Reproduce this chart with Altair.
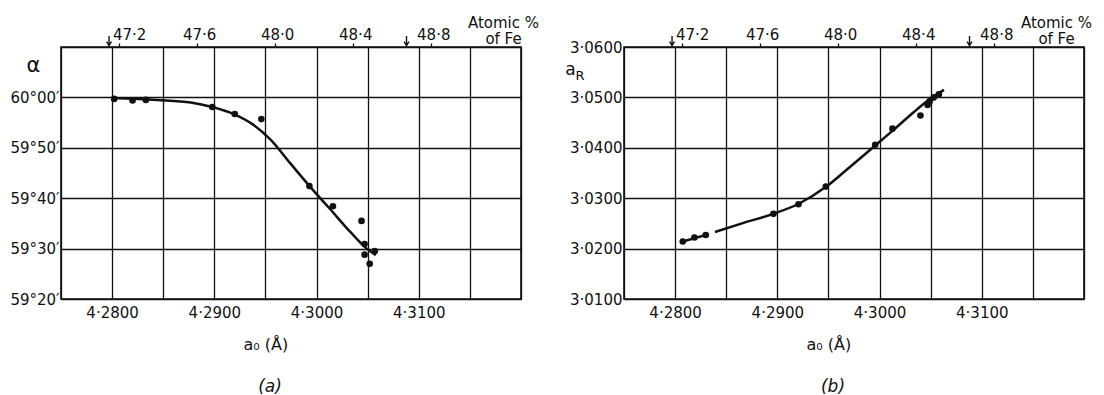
import altair as alt
import pandas as pd

# ---------------- data ----------------
# panel (a): alpha in arc-minutes (60°00' = 3600)
a_pts_a0 = [4.2802, 4.2820, 4.2833, 4.2898, 4.2920, 4.2946, 4.2993, 4.3016,
            4.3044, 4.3047, 4.3047, 4.3052, 4.3057]
a_pts_alpha = [3599.7, 3599.4, 3599.5, 3598.1, 3596.7, 3595.7, 3582.4, 3578.4,
               3575.5, 3570.9, 3568.8, 3567.0, 3569.5]
a_curve_a0 = [4.2800, 4.2844, 4.2877, 4.2898, 4.2919, 4.2938, 4.2955, 4.2974,
              4.2994, 4.3013, 4.3033, 4.3049, 4.3058]
a_curve_alpha = [3599.9, 3599.5, 3599.0, 3598.1, 3596.7, 3594.6, 3591.6, 3587.0,
                 3582.2, 3577.9, 3573.3, 3570.0, 3568.7]

# panel (b): a_R
b_pts_a0 = [4.28075, 4.28189, 4.2830, 4.28962, 4.29207, 4.29475, 4.29957, 4.30126,
            4.3040, 4.3047, 4.3049, 4.3053, 4.3058]
b_pts_aR = [3.0214, 3.0222, 3.0227, 3.0269, 3.0288, 3.0323, 3.0406, 3.0438,
            3.0464, 3.0485, 3.0492, 3.0500, 3.0506]
b_curve_a0 = [4.28075, 4.2830,
              4.2839, 4.2867, 4.2896, 4.2921, 4.2948, 4.2971, 4.2996, 4.3014,
              4.3033, 4.3046, 4.3063]
b_curve_aR = [3.0214, 3.0227,
              3.0233, 3.0251, 3.0269, 3.0289, 3.0323, 3.0362, 3.0405, 3.0436,
              3.0470, 3.0492, 3.0515]
b_curve_seg = [1, 1, 2, 2, 2, 2, 2, 2, 2, 2, 2, 2, 2]

# composition limits (arrows) and top axis (Atomic % of Fe)
arrow_a0 = [4.2797, 4.3088]
top_pct = [47.2, 47.6, 48.0, 48.4, 48.8]

x_grid = [4.275, 4.280, 4.285, 4.290, 4.295, 4.300, 4.305, 4.310, 4.315, 4.320]
a_y_grid = [3560, 3570, 3580, 3590, 3600, 3610]
b_y_grid = [3.01, 3.02, 3.03, 3.04, 3.05, 3.06]

# ---------------- styling ----------------
FONT = "DejaVu Sans"
INK = "#111111"
W, H = 460, 252
X_DOMAIN = [4.275, 4.320]
TOP_DOMAIN = [46.902, 49.26]

x_label_expr = ("(round(datum.value*1000) % 10 == 0 && datum.value > 4.277 && datum.value < 4.318)"
                " ? replace(format(datum.value, '.4f'), '.', '·') : ''")


def panel(pts, curve, yfield, ydomain, yvals, ylabel_expr, ytitle, ytitle_x, ytitle_y,
          ytitle_size, caption, top_title_x, extra=None):
    xs = alt.Scale(domain=X_DOMAIN, nice=False, zero=False)
    ys = alt.Scale(domain=ydomain, nice=False, zero=False)
    x_axis = alt.Axis(values=x_grid, labelExpr=x_label_expr, ticks=False, tickSize=0,
                      labelPadding=6, grid=True, domain=False, title="a₀ (Å)",
                      titleX=204.4, titleY=50, titleAlign="center",
                      titleBaseline="alphabetic", labelFlush=False, labelOverlap=False)
    y_axis = alt.Axis(values=yvals, labelExpr=ylabel_expr, ticks=False, tickSize=0,
                      labelPadding=2, grid=True, domain=False, title=ytitle,
                      titleAngle=0, titleX=ytitle_x, titleY=ytitle_y, titleAlign="center",
                      titleBaseline="alphabetic", titleFontSize=ytitle_size,
                      labelFlush=False, labelOverlap=False)
    points = alt.Chart(pts).mark_circle(size=44, color=INK, opacity=1).encode(
        x=alt.X("a0:Q", scale=xs, axis=x_axis),
        y=alt.Y(f"{yfield}:Q", scale=ys, axis=y_axis),
    )
    line = alt.Chart(curve).mark_line(color=INK, strokeWidth=2.5, interpolate="monotone").encode(
        x=alt.X("a0:Q", scale=xs),
        y=alt.Y(f"{yfield}:Q", scale=ys),
        detail="seg:N",
    )
    arrow_df = pd.DataFrame({"a0": arrow_a0})
    shafts = alt.Chart(arrow_df).mark_rule(color=INK, strokeWidth=1.4).encode(
        x=alt.X("a0:Q", scale=xs), y=alt.value(-11), y2=alt.value(-1)
    )
    heads = alt.Chart(arrow_df).mark_point(
        shape="M-1,-1L0,0.6L1,-1", filled=False, color=INK, strokeWidth=1.4, size=24, opacity=1
    ).encode(x=alt.X("a0:Q", scale=xs), y=alt.value(-3))
    layers = [points, line, shafts, heads]
    if extra is not None:
        layers.append(extra)
    inner = alt.layer(*layers)
    top = alt.Chart(pd.DataFrame({"pct": top_pct})).mark_point(opacity=0).encode(
        x=alt.X("pct:Q", scale=alt.Scale(domain=TOP_DOMAIN, nice=False, zero=False),
                axis=alt.Axis(orient="top", values=top_pct,
                              labelExpr="replace(format(datum.value, '.1f'), '.', '·')",
                              ticks=True, tickSize=4, tickColor=INK, tickWidth=1.3,
                              labelPadding=1, grid=False, domain=False,
                              labelOffset={"condition": {"test": "datum.value < 47.3", "value": 10},
                                           "value": 2},
                              title=["Atomic %", "of Fe"], titleAngle=0, titleX=top_title_x,
                              titleY=-20, titleAlign="center", titleBaseline="alphabetic",
                              titleLineHeight=16, titleFontSize=15,
                              labelFlush=False, labelOverlap=False)),
        y=alt.value(0),
    )
    return alt.layer(inner, top).resolve_scale(x="independent").properties(
        width=W, height=H,
        title=alt.TitleParams(caption, orient="bottom", anchor="middle", dx=-21, offset=27,
                              font=FONT, fontSize=17, fontStyle="italic",
                              fontWeight="normal", color=INK),
    )


pts_a = pd.DataFrame({"a0": a_pts_a0, "alpha": a_pts_alpha})
curve_a = pd.DataFrame({"a0": a_curve_a0, "alpha": a_curve_alpha, "seg": 1})
pts_b = pd.DataFrame({"a0": b_pts_a0, "aR": b_pts_aR})
curve_b = pd.DataFrame({"a0": b_curve_a0, "aR": b_curve_aR, "seg": b_curve_seg})

a_label_expr = ("datum.value <= 3600 ? floor(datum.value/60) + '°' + "
                "(datum.value % 60 < 10 ? '0' : '') + (datum.value % 60) + '′' : ''")
b_label_expr = "replace(format(datum.value, '.4f'), '.', '·')"

r_sub = alt.Chart(pd.DataFrame({"t": ["R"]})).mark_text(
    font=FONT, fontSize=13, color=INK, baseline="alphabetic", align="center"
).encode(text="t:N", x=alt.value(-44), y=alt.value(33))

left = panel(pts_a, curve_a, "alpha", [3560, 3610], a_y_grid, a_label_expr, "α",
             -28, 24, 21, "(a)", 442)
right = panel(pts_b, curve_b, "aR", [3.01, 3.06], b_y_grid, b_label_expr, "a",
              -54, 27, 17, "(b)", 432, extra=r_sub)

chart = alt.hconcat(left, right, spacing=103, bounds="flush").properties(
    padding={"left": 1, "top": 6, "right": 0, "bottom": 0},
    background="white",
).configure_view(
    stroke=INK, strokeWidth=1.6
).configure_axis(
    gridColor=INK, gridOpacity=1, gridWidth=1.3,
    labelFont=FONT, labelFontSize=15, labelColor=INK,
    titleFont=FONT, titleFontSize=16, titleColor=INK, titleFontWeight="normal",
)

chart.save("out.html", embed_options={"renderer": "svg", "actions": False})
